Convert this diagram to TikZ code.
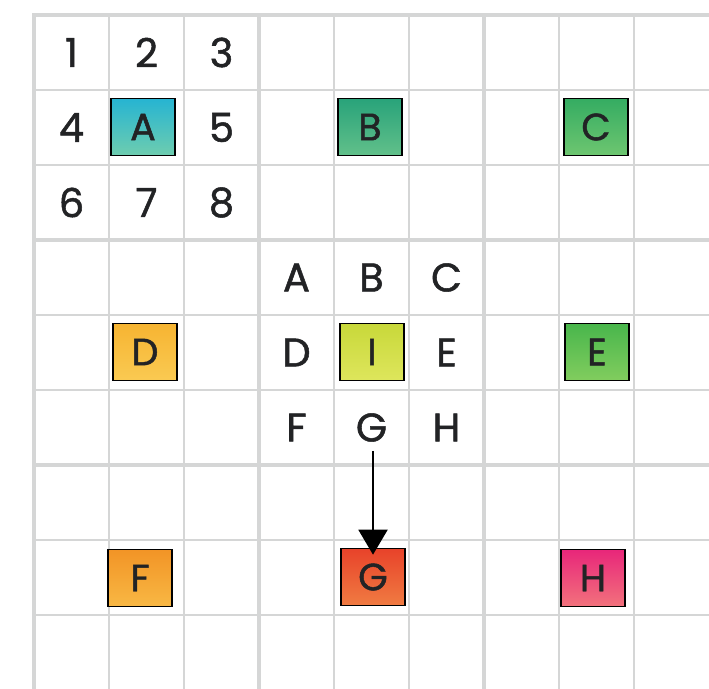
\documentclass[tikz,border=0pt]{standalone}
\usepackage{fontspec}
\setmainfont{Poppins}
\newfontfamily\lblfont{Poppins}[FakeBold=1.3]
\usetikzlibrary{arrows.meta}
\definecolor{gridgray}{HTML}{D5D6D6}
\definecolor{ink}{HTML}{222325}
\tikzset{
  thinline/.style={gridgray, line width=2.2pt},
  thickline/.style={gridgray, line width=4.2pt},
  lbl/.style={text=ink, font=\lblfont\fontsize{40}{46}\selectfont, inner sep=0pt, anchor=center},
  card/.style={draw=black, line width=1.6pt, minimum width=64pt, minimum height=57pt,
    inner sep=0pt, text=ink, font=\lblfont\fontsize{38}{44}\selectfont},
  cardA/.style={card, top color={rgb,255:red,38;green,180;blue,210}, bottom color={rgb,255:red,110;green,205;blue,175}},
  cardB/.style={card, top color={rgb,255:red,40;green,163;blue,122}, bottom color={rgb,255:red,98;green,192;blue,138}},
  cardC/.style={card, top color={rgb,255:red,52;green,172;blue,98}, bottom color={rgb,255:red,110;green,198;blue,112}},
  cardD/.style={card, top color={rgb,255:red,246;green,180;blue,50}, bottom color={rgb,255:red,250;green,202;blue,82}},
  cardE/.style={card, top color={rgb,255:red,72;green,182;blue,76}, bottom color={rgb,255:red,130;green,205;blue,94}},
  cardF/.style={card, top color={rgb,255:red,242;green,148;blue,38}, bottom color={rgb,255:red,248;green,184;blue,68}},
  cardG/.style={card, top color={rgb,255:red,232;green,66;blue,42}, bottom color={rgb,255:red,240;green,124;blue,66}},
  cardH/.style={card, top color={rgb,255:red,232;green,38;blue,122}, bottom color={rgb,255:red,242;green,114;blue,124}},
  cardI/.style={card, top color={rgb,255:red,200;green,216;blue,58}, bottom color={rgb,255:red,222;green,230;blue,92}},
}
\begin{document}
\begin{tikzpicture}[x=1pt,y=-1pt]
\useasboundingbox (0,0) rectangle (709,688);
\clip (0,0) rectangle (709,688);
% grid
\foreach \i in {1,2,4,5,7,8} {
  \draw[thinline] ({34+75*\i},15) -- ({34+75*\i},700);
  \draw[thinline] (34,{15+75*\i}) -- (720,{15+75*\i});
}
\foreach \i in {0,3,6} {
  \draw[thickline] ({34+75*\i},13) -- ({34+75*\i},700);
  \draw[thickline] (32,{15+75*\i}) -- (720,{15+75*\i});
}
% cards
\node[cardA] (cA) at (143,127) {A};
\node[cardB] (cB) at (370,127) {B};
\node[cardC] (cC) at (596,127) {C};
\node[cardD] (cD) at (145,352) {D};
\node[cardI] (cI) at (372,352) {I};
\node[cardE] (cE) at (597,352) {E};
\node[cardF] (cF) at (140,578) {F};
\node[cardG] (cG) at (373,577) {G};
\node[cardH] (cH) at (593,578) {H};
% digits
\node[lbl] (n1) at (71.5,52.5) {1};
\node[lbl] (n2) at (146.5,52.5) {2};
\node[lbl] (n3) at (221.5,52.5) {3};
\node[lbl] (n4) at (71.5,127.5) {4};
\node[lbl] (n5) at (221.5,127.5) {5};
\node[lbl] (n6) at (71.5,202.5) {6};
\node[lbl] (n7) at (146.5,202.5) {7};
\node[lbl] (n8) at (221.5,202.5) {8};
% letters
\node[lbl] (lA) at (296.5,277.5) {A};
\node[lbl] (lB) at (371.5,277.5) {B};
\node[lbl] (lC) at (446.5,277.5) {C};
\node[lbl] (lD) at (296.5,352.5) {D};
\node[lbl] (lE) at (446.5,352.5) {E};
\node[lbl] (lF) at (296.5,427.5) {F};
\node[lbl] (lG) at (371.5,427.5) {G};
\node[lbl] (lH) at (446.5,427.5) {H};
% arrow
\draw[black, line width=2pt, -{Triangle[width=29pt,length=25pt]}, shorten <=9pt, shorten >=-7pt]
  (lG.south -| cG.north) -- (cG.north);
\end{tikzpicture}
\end{document}
